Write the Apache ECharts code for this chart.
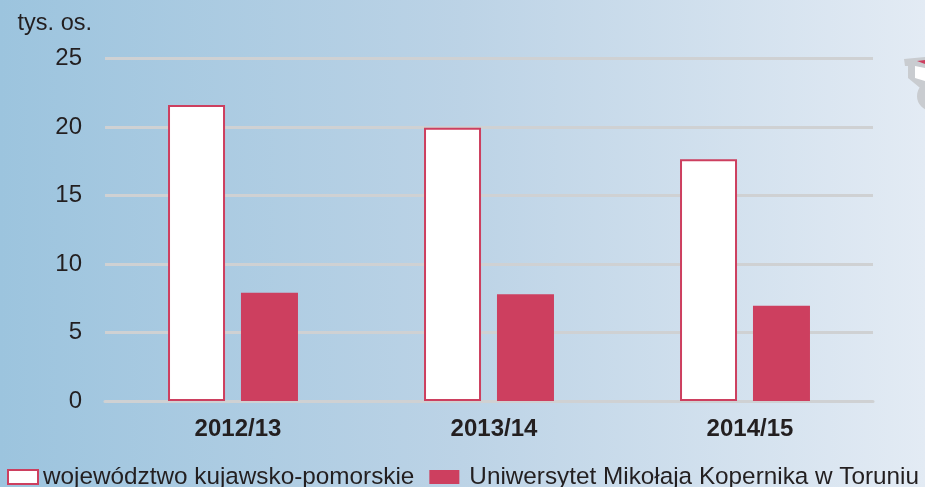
<!DOCTYPE html>
<html><head><meta charset="utf-8">
<style>html,body{margin:0;padding:0;background:#c0d6e8}#c{width:925px;height:487px}</style>
<script src="https://cdn.jsdelivr.net/npm/echarts@6/dist/echarts.min.js"></script>
</head><body><div id="c"></div>
<script>
const categories = ['2012/13', '2013/14', '2014/15'];
const regionValues = [21.6, 19.95, 17.65];
const universityValues = [7.9, 7.8, 6.95];
const regionName = 'województwo kujawsko-pomorskie';
const universityName = 'Uniwersytet Mikołaja Kopernika w Toruniu';
const FONT = '"Liberation Sans", Arial, sans-serif';
const INK = '#231f20', RED = '#cd3f5f', GRID = '#cfd1d3';
const chart = echarts.init(document.getElementById('c'));
chart.setOption({
  animation: false,
  backgroundColor: new echarts.graphic.LinearGradient(0, 0, 1, 0, [
    {offset: 0, color: '#9cc4de'}, {offset: 0.5, color: '#bcd3e6'}, {offset: 1, color: '#e3ebf4'}
  ]),
  grid: {left: 105, right: 52, top: 58.5, bottom: 86, containLabel: false},
  legend: {
    left: 2, top: 460, itemWidth: 30, itemHeight: 14, itemGap: 15,
    icon: 'rect', selectedMode: false,
    textStyle: {fontFamily: FONT, fontSize: 24.3, color: INK},
    data: [
      {name: regionName},
      {name: universityName, textStyle: {fontFamily: FONT, fontSize: 24.3, color: INK, padding: [0, 0, 0, 5]}}
    ]
  },
  xAxis: {
    type: 'category', data: categories,
    axisTick: {show: false},
    axisLine: {lineStyle: {color: GRID, width: 3}},
    axisLabel: {fontFamily: FONT, fontSize: 24, fontWeight: 'bold', color: INK, margin: 16, padding: [0, 0, 0, 10]}
  },
  yAxis: {
    type: 'value', min: 0, max: 25, interval: 5,
    name: 'tys. os.', nameGap: 23,
    nameTextStyle: {fontFamily: FONT, fontSize: 23.5, color: INK, align: 'right', padding: [0, 13, 0, 0]},
    axisLine: {show: false}, axisTick: {show: false},
    axisLabel: {fontFamily: FONT, fontSize: 24, color: INK, margin: 23},
    splitLine: {lineStyle: {color: GRID, width: 3}}
  },
  series: [
    {name: regionName, type: 'bar', data: regionValues, barWidth: 57, barGap: '28%',
     itemStyle: {color: '#ffffff', borderColor: RED, borderWidth: 2}},
    {name: universityName, type: 'bar', data: universityValues, barWidth: 57,
     itemStyle: {color: RED}}
  ],
  graphic: [
    {type: 'polygon', silent: true, shape: {points: [[904,59],[925,57],[925,92],[908,78],[908,66],[905,66]]}, style: {fill: '#c9ccd0'}},
    {type: 'circle', silent: true, shape: {cx: 932, cy: 96, r: 15}, style: {fill: '#c9ccd0'}},
    {type: 'polygon', silent: true, shape: {points: [[915,66],[925,68],[925,81],[915,78]]}, style: {fill: '#ffffff'}},
    {type: 'polygon', silent: true, shape: {points: [[917,61],[925,60],[925,64]]}, style: {fill: RED}}
  ]
});
</script></body></html>
